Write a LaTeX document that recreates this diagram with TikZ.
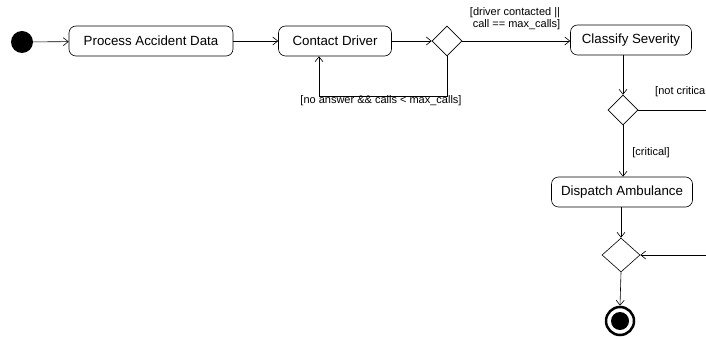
\documentclass[tikz,border=0pt]{standalone}
\usepackage{fontspec}
\setmainfont{Liberation Sans}
\usetikzlibrary{arrows.meta,shapes.geometric}
\begin{document}
\begin{tikzpicture}[x=1pt,y=-1pt,
  act/.style={draw, rounded corners=7pt, minimum height=30pt, inner sep=0pt, font=\fontsize{13.3}{15}\selectfont, line width=0.6pt},
  dec/.style={draw, diamond, minimum width=30pt, minimum height=30pt, inner sep=0pt, line width=0.6pt},
  flow/.style={-{Straight Barb[length=5pt,width=8pt]}, line width=0.6pt},
  lbl/.style={font=\fontsize{11}{12}\selectfont, inner sep=0pt, align=center}]
\useasboundingbox (0,0) rectangle (706,339);
\clip (0,0) rectangle (706,339);
\node[circle, fill=black, minimum size=22pt, inner sep=0pt] (init) at (22,42) {};
\node[act, minimum width=164pt] (pad) at (151,41) {Process Accident Data};
\node[act, minimum width=113pt] (cd) at (335,41) {Contact Driver};
\node[dec] (d1) at (447,41) {};
\node[act, minimum width=121pt] (cs) at (631,40) {Classify Severity};
\node[dec] (d2) at (623,110) {};
\node[act, minimum width=141pt] (da) at (622,192) {Dispatch Ambulance};
\node[dec, minimum width=38pt, minimum height=34pt] (d3) at (621,255) {};
\node[circle, draw, line width=2.5pt, minimum size=28pt, inner sep=0pt] (fin) at (620,321) {};
\node[circle, fill=black, minimum size=18pt, inner sep=0pt] at (fin) {};
\coordinate (e1) at (720,110);
\coordinate (e2) at (720,255);
\coordinate (lp) at (447,96);
\coordinate (lq) at (319,96);

\draw[flow] (init) -- (pad);
\draw[flow] (pad) -- (cd);
\draw[flow] (cd) -- (d1);
\draw[flow] (d1.south) -- (lp) -- (lq) -- (lq |- cd.south);
\draw[flow] (d1.east) -- (d1.east -| cs.west);
\draw[flow] (cs.south -| d2) -- (d2.north);
\draw (d2.east) -- (e1);
\draw[flow] (d2.south) -- (d2.south |- da.north);
\draw[flow] (da.south -| d3) -- (d3.north);
\draw[flow] (e2) -- (d3.east);
\draw[flow] (d3.south) -- (fin.north);

\node[lbl] (l1) at (515,18.5) {[driver contacted ||\\ \ call == max\_calls]};
\node[lbl] (l2) at (381,101) {[no answer \&\& calls < max\_calls]};
\node[lbl, anchor=west] (l3) at (655,92) {[not critical]};
\node[lbl] (l4) at (651,153) {[critical]};
\end{tikzpicture}
\end{document}
